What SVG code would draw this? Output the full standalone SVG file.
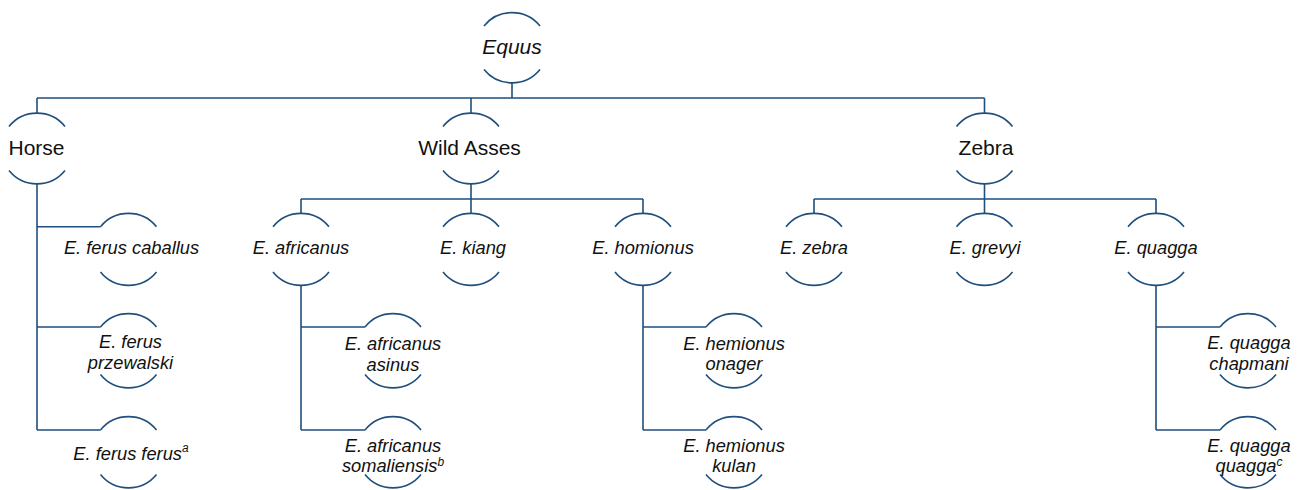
<svg xmlns="http://www.w3.org/2000/svg" xmlns:xlink="http://www.w3.org/1999/xlink" width="1299" height="490" viewBox="0 0 1299 490">
<style>
.arc{fill:none;stroke:#1f4f7d;stroke-width:1.6}
.ln{fill:none;stroke:#1f4f7d;stroke-width:1.6}
text{font-family:"Liberation Sans",Arial,Helvetica,sans-serif;fill:#111;text-anchor:middle}
.big{font-size:21px}
.it{font-size:18.3px;font-style:italic}
.sup{font-size:12px}
</style>
<defs>
<path id="ta" class="arc" d="M-28,0 A36,36 0 0 1 28,0"/>
<path id="ba" class="arc" d="M-28,0 A36,36 0 0 0 28,0"/>
</defs>
<rect width="1299" height="490" fill="#fff"/>
<g id="connectors" class="ln">
<path d="M512,83 V98 M37,98 H984.5 M37,98 V113 M471,98 V113 M984.5,98 V113"/>
<path d="M37,184 V430 M37,226.7 H100.5 M37,327 H100.5 M37,430 H100.5"/>
<path d="M471,184 V213.3 M301,199 H643 M301,199 V213.3 M643,199 V213.3"/>
<path d="M301,285.5 V430 M301,327 H365 M301,430 H365"/>
<path d="M643,285.5 V430 M643,327 H706 M643,430 H706"/>
<path d="M984.5,184 V213.3 M814,199 H1156 M814,199 V213.3 M1156,199 V213.3"/>
<path d="M1156,285.5 V430 M1156,327 H1220 M1156,430 H1220"/>
</g>
<g id="equus"><use href="#ta" x="512" y="26"/><use href="#ba" x="512" y="69.5"/><text class="big" font-style="italic" x="512" y="54">Equus</text></g>
<g id="horse"><use href="#ta" x="37" y="126.5"/><use href="#ba" x="37" y="170.5"/><text class="big" x="36.5" y="155">Horse</text></g>
<g id="wild-asses"><use href="#ta" x="471" y="126.5"/><use href="#ba" x="471" y="170.5"/><text class="big" x="469.5" y="155">Wild Asses</text></g>
<g id="zebra"><use href="#ta" x="984.5" y="126.5"/><use href="#ba" x="984.5" y="170.5"/><text class="big" x="986" y="155">Zebra</text></g>
<g id="ferus-caballus"><use href="#ta" x="128.5" y="226.7"/><use href="#ba" x="128.5" y="272"/><text class="it" x="131.5" y="254">E. ferus caballus</text></g>
<g id="africanus"><use href="#ta" x="301" y="226.7"/><use href="#ba" x="301" y="272"/><text class="it" x="301" y="254">E. africanus</text></g>
<g id="kiang"><use href="#ta" x="471" y="226.7"/><use href="#ba" x="471" y="272"/><text class="it" x="473" y="254">E. kiang</text></g>
<g id="homionus"><use href="#ta" x="643" y="226.7"/><use href="#ba" x="643" y="272"/><text class="it" x="643" y="254">E. homionus</text></g>
<g id="e-zebra"><use href="#ta" x="814" y="226.7"/><use href="#ba" x="814" y="272"/><text class="it" x="814" y="254">E. zebra</text></g>
<g id="grevyi"><use href="#ta" x="984.5" y="226.7"/><use href="#ba" x="984.5" y="272"/><text class="it" x="985" y="254">E. grevyi</text></g>
<g id="quagga"><use href="#ta" x="1156" y="226.7"/><use href="#ba" x="1156" y="272"/><text class="it" x="1156" y="254">E. quagga</text></g>
<g id="ferus-przewalski"><use href="#ta" x="128.5" y="327"/><use href="#ba" x="128.5" y="374.5"/><text class="it" x="130.5" y="348">E. ferus</text><text class="it" x="130.5" y="368.5">przewalski</text></g>
<g id="africanus-asinus"><use href="#ta" x="393" y="327"/><use href="#ba" x="393" y="374.5"/><text class="it" x="393" y="350">E. africanus</text><text class="it" x="393" y="370.5">asinus</text></g>
<g id="hemionus-onager"><use href="#ta" x="734" y="327"/><use href="#ba" x="734" y="374.5"/><text class="it" x="734" y="350">E. hemionus</text><text class="it" x="734" y="370">onager</text></g>
<g id="quagga-chapmani"><use href="#ta" x="1248" y="327"/><use href="#ba" x="1248" y="374.5"/><text class="it" x="1249" y="349">E. quagga</text><text class="it" x="1249" y="369.5">chapmani</text></g>
<g id="ferus-ferus"><use href="#ta" x="128.5" y="430"/><use href="#ba" x="128.5" y="474.5"/><text class="it" x="131" y="460">E. ferus ferus<tspan class="sup" dy="-8">a</tspan></text></g>
<g id="africanus-somaliensis"><use href="#ta" x="393" y="430"/><use href="#ba" x="393" y="474.5"/><text class="it" x="393" y="451.7">E. africanus</text><text class="it" x="393" y="472">somaliensis<tspan class="sup" dy="-6.5">b</tspan></text></g>
<g id="hemionus-kulan"><use href="#ta" x="734" y="430"/><use href="#ba" x="734" y="474.5"/><text class="it" x="734" y="451.7">E. hemionus</text><text class="it" x="734" y="472">kulan</text></g>
<g id="quagga-quagga"><use href="#ta" x="1248" y="430"/><use href="#ba" x="1248" y="474.5"/><text class="it" x="1249" y="451.7">E. quagga</text><text class="it" x="1249" y="472">quagga<tspan class="sup" dy="-6.5">c</tspan></text></g>
</svg>
